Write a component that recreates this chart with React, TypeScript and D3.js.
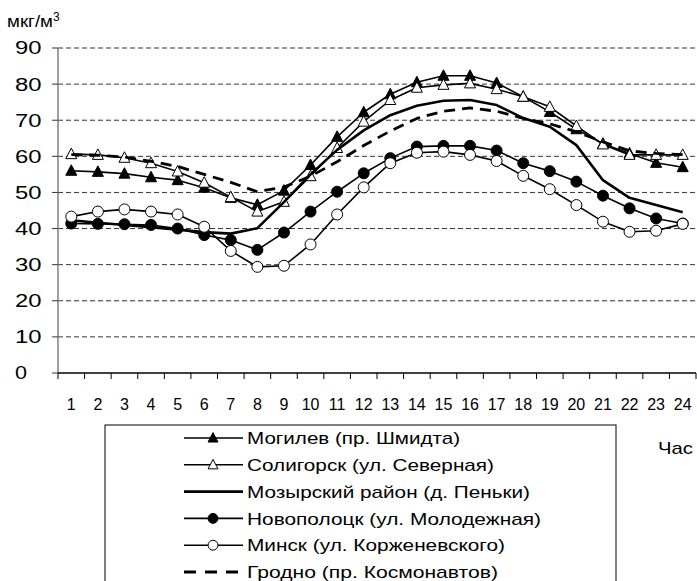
import React from "react";
import * as d3 from "d3";

const hours = ["1","2","3","4","5","6","7","8","9","10","11","12","13","14","15","16","17","18","19","20","21","22","23","24"];
const yTicks = [0, 10, 20, 30, 40, 50, 60, 70, 80, 90];

const mogilev = [56.0, 55.7, 55.2, 54.2, 53.4, 51.3, 48.5, 46.6, 50.5, 57.6, 65.4, 72.2, 77.2, 80.5, 82.3, 82.3, 80.3, 76.5, 72.3, 67.5, 63.5, 60.8, 58.2, 57.0];
const soligorsk = [60.6, 60.4, 59.6, 58.1, 55.8, 52.7, 48.7, 44.7, 47.4, 54.5, 62.3, 69.6, 75.6, 79.0, 79.8, 80.2, 78.6, 76.5, 73.7, 68.4, 63.3, 60.4, 60.4, 60.4];
const mozyr = [42.3, 41.6, 41.0, 40.4, 39.7, 39.0, 38.6, 40.1, 47.3, 55.0, 61.8, 67.2, 71.4, 74.0, 75.4, 75.6, 74.2, 70.6, 68.2, 63.1, 53.4, 48.5, 46.5, 44.5];
const novopolotsk = [41.4, 41.3, 41.2, 41.0, 40.0, 38.2, 36.8, 34.1, 38.9, 44.7, 50.2, 55.3, 59.5, 62.7, 62.9, 62.9, 61.6, 58.1, 55.9, 53.0, 49.1, 45.6, 42.8, 41.4];
const minsk = [43.3, 44.7, 45.3, 44.7, 43.9, 40.5, 33.8, 29.4, 29.7, 35.6, 43.9, 51.4, 58.1, 61.0, 61.3, 60.4, 58.7, 54.6, 50.9, 46.5, 41.9, 39.1, 39.4, 41.3];
const grodno = [60.5, 60.3, 59.8, 58.6, 57.2, 55.0, 52.8, 50.2, 51.5, 54.5, 58.5, 63.0, 67.0, 70.5, 72.5, 73.4, 72.5, 70.5, 69.0, 66.8, 64.0, 61.5, 60.8, 60.5];

const seriesNames = [
  "Могилев (пр. Шмидта)",
  "Солигорск (ул. Северная)",
  "Мозырский район (д. Пеньки)",
  "Новополоцк (ул. Молодежная)",
  "Минск (ул. Корженевского)",
  "Гродно (пр. Космонавтов)",
];
const seriesValues = [mogilev, soligorsk, mozyr, novopolotsk, minsk, grodno];
const seriesMarker = ["triFilled", "triOpen", "none", "circFilled", "circOpen", "none"];
const legendTextWidths = [213, 247, 283, 294, 258, 251];

const W = 697, H = 581;
const left = 58, right = 696, top = 48, bottom = 373;

function Marker({ type, x, y, scale = 1 }: { type: string; x: number; y: number; scale?: number }) {
  if (type === "triFilled" || type === "triOpen") {
    const s = 11 * scale, h = 10 * scale;
    const pts = `${x},${y - h * 0.6} ${x - s / 2},${y + h * 0.45} ${x + s / 2},${y + h * 0.45}`;
    return <polygon points={pts} fill={type === "triFilled" ? "#000" : "#fff"} stroke="#000" strokeWidth={1} />;
  }
  if (type === "circFilled" || type === "circOpen") {
    return <circle cx={x} cy={y} r={5.5 * scale} fill={type === "circFilled" ? "#000" : "#fff"} stroke="#000" strokeWidth={1} />;
  }
  return null;
}

export default function App() {
  const x = d3.scaleBand<string>().domain(hours).range([left, right]).padding(0);
  const y = d3.scaleLinear().domain([0, 90]).range([bottom, top]);
  const cx = (h: string) => (x(h) as number) + x.bandwidth() / 2;
  const line = d3.line<number>().x((_, i) => cx(hours[i])).y((d) => y(d));

  const styleFor = (i: number) => {
    if (i === 2) return { strokeWidth: 2.6, dash: undefined };
    if (i === 5) return { strokeWidth: 2.8, dash: "11,7" };
    return { strokeWidth: 1.6, dash: undefined };
  };

  const legendRows = seriesNames.map((_, i) => 438 + 26.8 * i);

  return (
    <svg width={W} height={H} style={{ position: "absolute", left: 0, top: 0, background: "#fff" }}
      fontFamily="Arial, 'Liberation Sans', sans-serif">
      <rect x={0} y={0} width={W} height={H} fill="#fff" />
      {yTicks.filter((t) => t > 0).map((t) => (
        <line key={"g" + t} x1={left} x2={right} y1={y(t)} y2={y(t)} stroke="#333" strokeWidth={1} strokeDasharray="5,3" />
      ))}
      <line x1={left} x2={left} y1={top} y2={bottom} stroke="#808080" strokeWidth={1.5} />
      {yTicks.map((t) => (
        <g key={"yt" + t}>
          <line x1={left - 6} x2={left} y1={y(t)} y2={y(t)} stroke="#333" strokeWidth={1} />
          <text x={15} y={y(t)} dy="0.36em" fontSize={18} fill="#000"
            textLength={t === 0 ? 12 : 26.5} lengthAdjust="spacingAndGlyphs">{t}</text>
        </g>
      ))}
      <text x={7} y={27} fontSize={17} fill="#000">
        <tspan textLength={46} lengthAdjust="spacingAndGlyphs">мкг/м</tspan>
        <tspan dy={-6} fontSize={12}>3</tspan>
      </text>
      <line x1={left} x2={right} y1={bottom} y2={bottom} stroke="#000" strokeWidth={1.5} />
      {hours.map((h) => (
        <line key={"xt" + h} x1={x(h) as number} x2={x(h) as number} y1={bottom} y2={bottom + 6} stroke="#000" strokeWidth={1} />
      ))}
      <line x1={right} x2={right} y1={bottom} y2={bottom + 6} stroke="#000" strokeWidth={1} />
      {hours.map((h) => (
        <text key={"xl" + h} x={cx(h)} y={404} dy="0.36em" textAnchor="middle" fontSize={16} fill="#000">{h}</text>
      ))}
      {seriesValues.map((vals, i) => {
        const st = styleFor(i);
        return (
          <g key={"s" + i}>
            <path d={line(vals) || ""} fill="none" stroke="#000" strokeWidth={st.strokeWidth}
              strokeDasharray={st.dash} strokeLinejoin="round" />
            {vals.map((v, j) => (
              <Marker key={j} type={seriesMarker[i]} x={cx(hours[j])} y={y(v)} />
            ))}
          </g>
        );
      })}
      <rect x={105} y={425} width={511} height={170} fill="#fff" stroke="#000" strokeWidth={1} />
      {seriesNames.map((name, i) => {
        const st = styleFor(i);
        const ly = legendRows[i];
        return (
          <g key={"l" + i}>
            <line x1={184} x2={243} y1={ly} y2={ly} stroke="#000" strokeWidth={st.strokeWidth}
              strokeDasharray={st.dash ? "12,9" : undefined} />
            <Marker type={seriesMarker[i]} x={213} y={ly} scale={0.9} />
            <text x={247} y={ly} dy="0.36em" fontSize={17} fill="#000"
              textLength={legendTextWidths[i]} lengthAdjust="spacingAndGlyphs">{name}</text>
          </g>
        );
      })}
      <text x={658} y={448} dy="0.36em" fontSize={17} fill="#000" textLength={35} lengthAdjust="spacingAndGlyphs">Час</text>
    </svg>
  );
}
